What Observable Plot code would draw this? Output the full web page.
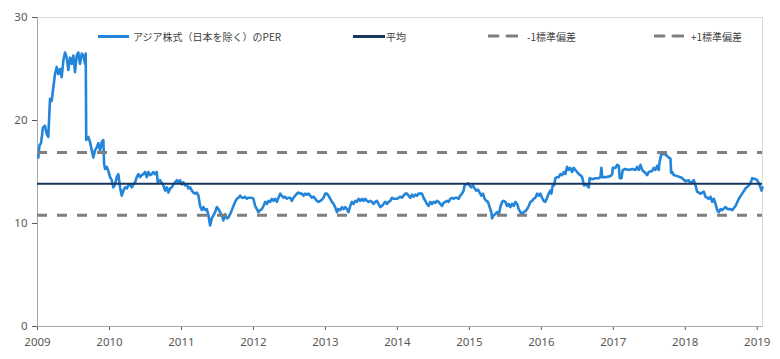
<!DOCTYPE html>
<html>
<head>
<meta charset="utf-8">
<script src="https://cdn.jsdelivr.net/npm/d3@7"></script>
<script src="https://cdn.jsdelivr.net/npm/@observablehq/plot@0.6"></script>
<style>
  html, body { margin: 0; padding: 0; background: #fff; }
  #wrap { position: relative; width: 780px; height: 359px; font-family: "Noto Sans", "Noto Sans CJK JP", sans-serif; }
  .lg { position: absolute; top: 30px; height: 14px; font-family: "Noto Sans CJK JP", "Noto Sans", sans-serif; font-size: 10px; line-height: 14px; color: #404040; white-space: nowrap; }
  .sw { position: absolute; top: 6px; height: 0; }
  .tx { position: absolute; top: 0; }
</style>
</head>
<body>
<div id="wrap"></div>
<script>
// ---- data ----
const seriesNames = ["アジア株式（日本を除く）のPER", "平均", "-1標準偏差", "+1標準偏差"];
const yearTicks = [2009, 2010, 2011, 2012, 2013, 2014, 2015, 2016, 2017, 2018, 2019];
const yTicks = [0, 10, 20, 30];
const statValues = [13.85, 10.8, 16.9]; // 平均, -1標準偏差, +1標準偏差

const years = [
2009.011,2009.028,2009.049,2009.076,2009.104,2009.128,2009.150,2009.174,2009.197,2009.220,
2009.243,2009.267,2009.289,2009.313,2009.336,2009.359,2009.382,2009.406,2009.428,2009.452,
2009.476,2009.498,2009.521,2009.545,2009.567,2009.591,2009.615,2009.637,2009.660,2009.670,
2009.677,2009.706,2009.730,2009.754,2009.776,2009.799,2009.823,2009.845,2009.869,2009.893,
2009.915,2009.925,2009.939,2009.962,2009.984,2010.008,2010.032,2010.054,2010.078,2010.101,
2010.123,2010.147,2010.171,2010.193,2010.217,2010.240,2010.262,2010.286,2010.310,2010.332,
2010.356,2010.379,2010.402,2010.425,2010.449,2010.471,2010.495,2010.518,2010.541,2010.564,
2010.588,2010.610,2010.634,2010.657,2010.671,2010.703,2010.749,2010.773,2010.796,2010.819,
2010.842,2010.866,2010.888,2010.912,2010.935,2010.958,2010.981,2011.005,2011.027,2011.051,
2011.075,2011.097,2011.120,2011.144,2011.166,2011.190,2011.214,2011.236,2011.259,2011.283,
2011.305,2011.329,2011.353,2011.375,2011.398,2011.422,2011.444,2011.468,2011.492,2011.514,
2011.537,2011.561,2011.583,2011.607,2011.631,2011.653,2011.677,2011.700,2011.722,2011.746,
2011.770,2011.792,2011.816,2011.839,2011.861,2011.885,2011.909,2011.931,2011.955,2011.978,
2012.000,2012.024,2012.048,2012.070,2012.094,2012.117,2012.140,2012.163,2012.187,2012.209,
2012.233,2012.256,2012.279,2012.302,2012.326,2012.348,2012.372,2012.395,2012.418,2012.441,
2012.465,2012.487,2012.511,2012.534,2012.557,2012.580,2012.604,2012.626,2012.650,2012.673,
2012.696,2012.719,2012.743,2012.765,2012.789,2012.812,2012.835,2012.858,2012.882,2012.904,
2012.928,2012.951,2012.974,2012.997,2013.021,2013.043,2013.067,2013.091,2013.113,2013.136,
2013.160,2013.182,2013.206,2013.230,2013.252,2013.276,2013.299,2013.321,2013.345,2013.369,
2013.391,2013.415,2013.438,2013.460,2013.484,2013.508,2013.530,2013.553,2013.577,2013.600,
2013.623,2013.647,2013.669,2013.693,2013.716,2013.739,2013.762,2013.786,2013.808,2013.832,
2013.855,2013.878,2013.901,2013.925,2013.947,2013.971,2013.994,2014.017,2014.040,2014.064,
2014.086,2014.110,2014.134,2014.156,2014.179,2014.203,2014.225,2014.249,2014.272,2014.295,
2014.318,2014.342,2014.364,2014.388,2014.411,2014.434,2014.457,2014.481,2014.503,2014.527,
2014.550,2014.573,2014.596,2014.620,2014.642,2014.666,2014.689,2014.712,2014.735,2014.759,
2014.781,2014.805,2014.828,2014.851,2014.874,2014.898,2014.920,2014.934,2014.954,2014.981,
2015.000,2015.027,2015.051,2015.073,2015.097,2015.120,2015.143,2015.166,2015.190,2015.212,
2015.236,2015.259,2015.282,2015.305,2015.315,2015.337,2015.360,2015.385,2015.407,2015.431,
2015.454,2015.476,2015.500,2015.524,2015.546,2015.570,2015.593,2015.616,2015.639,2015.663,
2015.686,2015.709,2015.733,2015.755,2015.778,2015.802,2015.825,2015.848,2015.872,2015.894,
2015.917,2015.941,2015.963,2015.987,2016.010,2016.033,2016.056,2016.080,2016.102,2016.126,
2016.140,2016.158,2016.178,2016.195,2016.219,2016.242,2016.265,2016.289,2016.311,2016.334,
2016.358,2016.380,2016.404,2016.428,2016.450,2016.473,2016.497,2016.519,2016.543,2016.567,
2016.580,2016.594,2016.612,2016.636,2016.659,2016.672,2016.706,2016.752,2016.797,2016.821,
2016.835,2016.845,2016.891,2016.960,2016.985,2016.993,2017.030,2017.053,2017.076,2017.090,
2017.113,2017.131,2017.169,2017.215,2017.262,2017.308,2017.331,2017.354,2017.377,2017.401,
2017.447,2017.470,2017.493,2017.540,2017.562,2017.585,2017.609,2017.632,2017.641,2017.669,
2017.725,2017.771,2017.794,2017.804,2017.818,2017.840,2017.887,2017.933,2017.957,2018.003,
2018.049,2018.072,2018.118,2018.142,2018.165,2018.211,2018.257,2018.280,2018.327,2018.350,
2018.374,2018.396,2018.420,2018.444,2018.466,2018.490,2018.513,2018.559,2018.587,2018.629,
2018.652,2018.698,2018.744,2018.791,2018.837,2018.883,2018.907,2018.930,2018.976,2019.000,
2019.022,2019.046,2019.060,2019.072
];

const per = [
16.4,17.6,17.8,19.3,19.5,18.7,18.4,22.1,21.9,23.2,
24.5,25.2,24.5,25.0,24.2,25.8,26.6,26.1,24.9,26.1,
25.5,26.3,24.7,26.3,26.6,25.5,26.5,26.3,25.5,26.5,
18.1,18.4,17.9,17.1,16.4,17.1,17.4,17.8,17.1,17.9,
18.1,15.8,15.3,15.5,15.1,14.5,14.2,13.5,13.8,14.5,
14.8,13.5,12.7,13.2,13.5,13.4,13.7,13.8,13.5,13.8,
14.0,14.5,14.8,14.5,14.7,14.8,15.0,14.5,15.0,14.7,
14.8,15.0,14.8,15.0,14.0,14.2,13.7,13.2,13.5,13.0,
13.4,13.5,13.8,14.0,14.2,14.0,14.2,13.8,14.0,13.7,
13.8,13.4,13.5,13.2,13.0,12.9,13.0,12.7,11.7,11.3,
11.6,11.3,11.4,10.8,9.8,10.5,10.8,11.1,11.6,11.4,
11.1,10.8,10.3,10.9,10.5,10.6,10.9,11.3,11.7,12.1,
12.4,12.5,12.7,12.5,12.5,12.6,12.4,12.5,12.5,12.5,
12.4,11.7,11.4,11.1,11.3,11.4,11.7,12.1,11.9,12.2,
12.1,12.4,12.2,12.4,12.1,12.5,12.9,12.7,12.5,12.6,
12.4,12.5,12.5,12.2,12.5,12.7,12.9,13.0,12.9,12.9,
12.7,12.9,12.8,12.9,12.7,12.5,12.6,12.4,12.2,12.1,
12.2,12.3,12.5,12.9,12.9,12.7,12.4,12.1,11.9,11.6,
11.1,11.4,11.3,11.6,11.4,11.6,11.4,11.1,11.7,12.1,
11.9,12.2,12.1,12.4,12.2,12.4,12.2,12.4,12.2,12.1,
12.2,12.1,11.9,12.1,12.2,11.9,11.6,11.7,11.9,12.1,
11.9,12.1,12.2,12.5,12.4,12.4,12.4,12.5,12.6,12.5,
12.7,12.9,12.9,12.7,12.5,12.8,12.6,12.8,12.7,12.9,
12.9,12.9,12.5,12.2,11.9,11.7,12.1,11.9,12.1,12.0,
12.2,12.1,11.9,11.7,12.0,12.1,12.2,12.1,12.4,12.5,
12.4,12.5,12.5,12.4,12.7,12.9,13.2,13.7,13.8,13.9,
13.7,13.5,13.7,13.4,13.2,13.3,13.0,12.7,12.9,12.4,
12.2,12.1,11.6,11.1,10.5,10.8,10.9,11.1,10.8,11.6,
12.1,12.2,12.1,11.7,11.9,11.6,11.9,11.7,12.1,11.9,
11.4,11.1,10.9,11.1,11.2,11.4,11.7,12.1,12.2,12.4,
12.5,12.9,12.7,12.9,12.5,12.2,12.1,12.5,12.9,13.2,
12.9,13.7,13.7,14.4,14.5,14.5,14.8,14.7,15.0,14.8,
15.5,15.2,15.4,15.0,15.4,15.2,15.0,14.8,14.7,14.5,
14.1,13.7,13.8,13.7,13.5,14.4,14.3,14.4,14.4,14.5,
15.4,14.5,14.5,14.6,14.8,15.4,15.4,15.7,15.6,14.4,
14.4,15.2,15.3,15.2,15.3,15.2,15.5,15.2,15.7,15.2,
14.9,14.7,15.0,15.1,15.4,15.2,15.6,15.2,15.9,16.8,
16.7,16.4,16.3,14.9,15.0,14.7,14.6,14.5,14.4,14.1,
14.2,13.9,14.2,13.7,13.1,12.9,13.1,12.6,12.4,12.6,
12.1,12.4,11.9,11.3,11.1,11.4,11.3,11.6,11.4,11.4,
11.3,11.7,12.4,12.9,13.4,13.7,13.9,14.4,14.3,14.2,
13.9,13.5,13.2,13.5
];

// ---- build ----
const data = years.map((t, i) => ({t, v: per[i]}));
const blue = "#2385d9", navy = "#17375e", grey = "#7f7f7f";

const chart = Plot.plot({
  width: 780,
  height: 359,
  marginLeft: 37,
  marginRight: 18,
  marginTop: 17,
  marginBottom: 33,
  style: {fontFamily: "'Noto Sans', 'Noto Sans CJK JP', sans-serif", fontSize: "11.5px", color: "#595959", background: "#fff"},
  x: {domain: [2009, 2019.073], ticks: yearTicks, tickFormat: d => String(d), tickSize: 4, tickPadding: 7, label: null},
  y: {domain: [0, 30], ticks: yTicks, tickSize: 5, tickPadding: 5, label: null},
  marks: [
    Plot.frame({stroke: "#d9d9d9"}),
    Plot.ruleX([2009], {stroke: "#a6a6a6"}),
    Plot.ruleY([0], {stroke: "#a6a6a6"}),
    Plot.line(data, {x: "t", y: "v", stroke: blue, strokeWidth: 2.6, strokeLinejoin: "round"}),
    Plot.ruleY([statValues[0]], {stroke: navy, strokeWidth: 2}),
    Plot.ruleY([statValues[1], statValues[2]], {stroke: grey, strokeWidth: 3, strokeDasharray: "10,10"})
  ]
});

const wrap = document.getElementById("wrap");
wrap.appendChild(chart);

// legend (inside the plot area, as in the reference)
const items = [
  {name: seriesNames[0], x0: 98, w: 31, tx: 133, style: `border-top:3px solid ${blue}`},
  {name: seriesNames[1], x0: 353, w: 32, tx: 386, style: `border-top:3px solid ${navy}`},
  {name: seriesNames[2], x0: 488, w: 30, tx: 527, style: `border-top:3px dashed ${grey}`},
  {name: seriesNames[3], x0: 654, w: 30, tx: 691, style: `border-top:3px dashed ${grey}`}
];
for (const it of items) {
  const d = document.createElement("div");
  d.className = "lg";
  d.style.left = "0px";
  const sw = document.createElement("div");
  sw.className = "sw";
  sw.style.cssText += `left:${it.x0}px;width:${it.w}px;${it.style};top:5px;`;
  if (it.style.includes("dashed")) {
    sw.style.borderTop = "none";
    sw.innerHTML = `<svg width="${it.w}" height="4" style="display:block"><line x1="0" y1="2" x2="${it.w}" y2="2" stroke="${grey}" stroke-width="3" stroke-dasharray="10,9" stroke-linecap="round"/></svg>`;
    sw.style.top = "4px";
  }
  const tx = document.createElement("div");
  tx.className = "tx";
  tx.style.left = it.tx + "px";
  tx.textContent = it.name;
  d.appendChild(sw);
  d.appendChild(tx);
  wrap.appendChild(d);
}
</script>
</body>
</html>
